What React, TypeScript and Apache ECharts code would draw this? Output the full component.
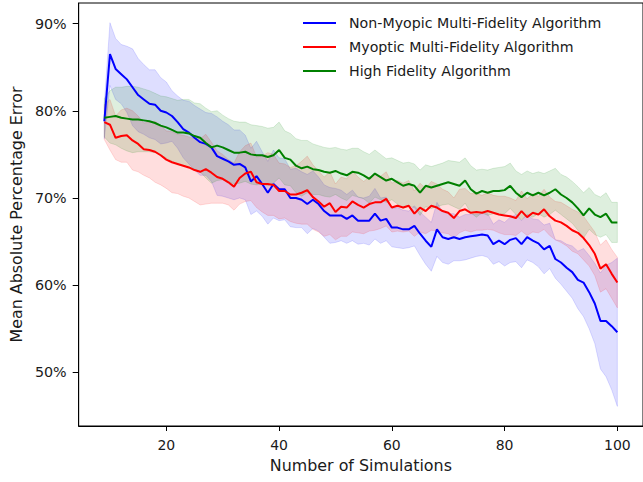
import React, { useEffect, useRef } from "react";
import * as echarts from "echarts";

// Number of simulations: 9 .. 100 (one point per simulation count)
const FIRST_SIM = 9;

const seriesNames = [
  "Non-Myopic Multi-Fidelity Algorithm",
  "Myoptic Multi-Fidelity Algorithm",
  "High Fidelity Algorithm",
];

// Mean absolute percentage error (%)
const nonMyopicMean = [
  78.8, 86.5, 84.8, 84.2, 83.6, 82.7, 81.8, 81.3, 80.8, 80.7,
  80.0, 79.8, 79.4, 78.7, 77.9, 77.5, 76.9, 76.4, 76.2, 75.8,
  74.8, 74.5, 74.2, 73.8, 73.9, 73.5, 71.9, 72.5, 71.6, 70.6,
  71.6, 71.0, 71.0, 70.0, 70.0, 69.8, 69.3, 69.8, 69.3, 68.5,
  68.0, 68.0, 68.0, 67.6, 68.0, 67.4, 67.4, 67.4, 68.2, 67.4,
  67.6, 66.6, 66.6, 66.4, 66.4, 66.8, 65.9, 65.1, 64.4, 66.4,
  65.5, 65.3, 65.5, 65.3, 65.5, 65.6, 65.7, 65.8, 65.7, 64.7,
  65.1, 64.7, 65.2, 65.4, 64.7, 65.5, 65.1, 64.8, 64.1, 64.5,
  63.0, 62.6, 62.0, 61.5, 60.6, 60.3, 59.2, 57.9, 55.9, 55.9,
  55.3, 54.6,
];
const nonMyopicSpread = [
  2.0, 3.6, 3.5, 3.4, 3.8, 4.4, 4.2, 4.0, 3.9, 4.0,
  3.8, 3.5, 2.9, 3.0, 3.3, 3.6, 3.7, 3.8, 3.6, 3.9,
  4.5, 4.3, 4.2, 4.0, 3.9, 3.7, 3.8, 4.0, 3.7, 3.6,
  3.9, 3.6, 3.5, 3.3, 3.4, 3.2, 3.4, 3.3, 3.1, 3.0,
  3.2, 3.1, 2.9, 2.8, 2.9, 2.7, 2.6, 2.8, 2.9, 2.6,
  2.5, 2.2, 2.3, 2.2, 2.1, 2.3, 2.5, 2.7, 2.8, 3.1,
  2.9, 2.9, 2.7, 2.5, 2.6, 2.5, 2.4, 2.4, 2.5, 2.3,
  2.4, 2.5, 2.6, 2.7, 2.7, 2.6, 2.5, 2.7, 2.8, 2.6,
  2.2, 2.5, 2.7, 3.0, 3.3, 3.9, 4.2, 4.6, 5.5, 6.4,
  7.3, 8.5,
];

const myopicMean = [
  78.7, 78.4, 76.9, 77.1, 77.2, 76.6, 76.2, 75.6, 75.5, 75.3,
  74.9, 74.4, 74.1, 73.9, 73.7, 73.5, 73.2, 73.0, 73.3, 72.9,
  72.4, 72.2, 71.8, 71.3, 72.3, 72.8, 73.0, 71.8, 71.6, 71.6,
  71.5, 70.8, 70.8, 70.4, 70.4, 70.6, 70.9, 70.1, 69.6, 69.0,
  69.4, 68.4, 69.0, 68.9, 69.6, 69.2, 68.9, 69.3, 69.5, 69.5,
  69.9, 68.9, 69.1, 68.9, 69.1, 68.2, 68.9, 68.5, 69.1, 68.9,
  68.5, 68.3, 67.7, 68.5, 68.7, 68.3, 68.4, 68.3, 68.5, 68.3,
  68.1, 68.0, 67.9, 67.7, 68.5, 67.8, 68.3, 68.1, 68.7, 67.9,
  67.4, 67.2, 66.8, 66.3, 66.0, 65.4, 64.6, 63.6, 61.9, 62.4,
  61.3, 60.3,
];
const myopicSpread = [
  2.0, 2.9, 2.5, 3.0, 3.1, 3.4, 3.2, 3.0, 3.2, 3.5,
  3.4, 3.3, 3.5, 3.4, 3.5, 3.5, 3.6, 3.8, 4.0, 3.5,
  3.0, 2.8, 2.6, 2.7, 3.0, 3.2, 3.3, 2.9, 3.2, 3.6,
  3.5, 3.2, 3.1, 3.1, 3.3, 3.6, 3.9, 3.7, 3.5, 3.4,
  3.6, 3.2, 3.4, 3.3, 3.5, 3.2, 3.0, 3.1, 3.2, 3.0,
  3.1, 2.8, 2.9, 2.8, 2.9, 2.6, 2.8, 2.6, 2.8, 2.7,
  2.5, 2.4, 2.3, 2.5, 2.4, 2.2, 2.1, 2.0, 2.1, 2.0,
  2.1, 2.2, 2.1, 2.0, 2.3, 2.1, 2.2, 2.1, 2.3, 2.2,
  2.2, 2.3, 2.3, 2.4, 2.4, 2.5, 2.4, 2.5, 2.7, 2.8,
  2.8, 2.9,
];

const highFidelityMean = [
  79.2, 79.3, 79.4, 79.2, 79.1, 79.0, 79.0, 78.9, 78.8, 78.6,
  78.3, 78.1, 77.8, 77.5, 77.5, 77.4, 77.1, 76.9, 76.3, 75.8,
  76.0, 75.8, 75.5, 75.2, 75.2, 75.3, 75.0, 74.9, 74.9, 74.7,
  74.9, 75.5, 74.6, 74.4, 73.7, 73.4, 73.6, 73.3, 73.2, 73.0,
  72.9, 73.1, 72.8, 72.6, 73.0, 72.9, 72.6, 72.2, 72.8, 72.4,
  72.0, 72.2, 71.8, 71.4, 71.6, 71.4, 70.6, 71.4, 71.2, 71.4,
  71.6, 71.8, 71.6, 71.4, 72.0, 71.0, 70.5, 70.8, 70.6, 70.8,
  70.8, 70.9, 71.4, 70.6, 70.1, 70.6, 70.3, 70.6, 70.3, 70.6,
  71.0, 70.4, 70.0, 69.5, 68.8, 68.0, 68.8, 68.1, 67.8, 68.2,
  67.2, 67.2,
];
const highFidelitySpread = [
  2.2, 3.0, 3.3, 3.5, 3.7, 3.8, 3.7, 3.6, 3.5, 3.4,
  3.4, 3.5, 3.6, 3.7, 3.8, 3.9, 3.8, 3.9, 4.0, 4.1,
  4.0, 3.7, 3.6, 3.6, 3.5, 3.4, 3.4, 3.4, 3.3, 3.3,
  3.2, 3.2, 3.1, 3.0, 3.1, 3.2, 3.0, 2.9, 2.8, 2.8,
  2.8, 2.7, 2.8, 2.9, 2.7, 2.8, 2.7, 2.8, 2.7, 2.6,
  2.5, 2.4, 2.5, 2.6, 2.5, 2.5, 2.6, 2.4, 2.4, 2.4,
  2.4, 2.5, 2.6, 2.7, 2.6, 2.7, 2.7, 2.5, 2.6, 2.6,
  2.7, 2.7, 2.6, 2.5, 2.6, 2.5, 2.5, 2.4, 2.5, 2.5,
  2.4, 2.3, 2.4, 2.4, 2.5, 2.6, 2.4, 2.3, 2.3, 2.4,
  2.3, 2.3,
];

const xTicks = [20, 40, 60, 80, 100];
const yTicks = [50, 60, 70, 80, 90];

const COLORS = ["#0000ff", "#ff0000", "#008000"];
const BAND_COLORS = [
  "rgba(0,0,255,0.13)",
  "rgba(255,0,0,0.13)",
  "rgba(0,128,0,0.13)",
];

const FONT = "DejaVu Sans";

export default function App() {
  const ref = useRef<HTMLDivElement>(null);

  useEffect(() => {
    if (!ref.current) return;
    const chart = echarts.init(ref.current, null, { renderer: "svg" });

    const means = [nonMyopicMean, myopicMean, highFidelityMean];
    const spreads = [nonMyopicSpread, myopicSpread, highFidelitySpread];
    const xs = nonMyopicMean.map((_, i) => FIRST_SIM + i);

    const bandSeries = means.map((m, k) => {
      const lower = m.map((v, i) => +(v - spreads[k][i]).toFixed(2));
      const upper = m.map((v, i) => +(v + spreads[k][i]).toFixed(2));
      return {
        type: "custom",
        name: seriesNames[k] + " band",
        silent: true,
        z: 1,
        data: xs.map((x, i) => [x, lower[i], upper[i]]),
        encode: { x: 0, y: [1, 2] },
        renderItem: (params: any, api: any) => {
          if (params.dataIndex !== 0) return null;
          const top = xs.map((x, i) => api.coord([x, upper[i]]));
          const bot = xs.map((x, i) => api.coord([x, lower[i]])).reverse();
          return {
            type: "polygon",
            shape: { points: top.concat(bot) },
            style: { fill: BAND_COLORS[k], stroke: BAND_COLORS[k], lineWidth: 1 },
          };
        },
      };
    });

    const lineSeries = means.map((m, k) => ({
      type: "line",
      name: seriesNames[k],
      z: 3,
      showSymbol: false,
      symbol: "none",
      data: xs.map((x, i) => [x, m[i]]),
      lineStyle: { color: COLORS[k], width: 2 },
      itemStyle: { color: COLORS[k] },
    }));

    chart.setOption({
      animation: false,
      backgroundColor: "#ffffff",
      textStyle: { fontFamily: FONT },
      grid: {
        left: 78,
        right: -4,
        top: 3,
        bottom: 56,
        show: true,
        borderColor: "#000",
        borderWidth: 1,
        containLabel: false,
      },
      legend: {
        data: seriesNames,
        orient: "vertical",
        left: 303,
        top: 15,
        padding: 0,
        icon: "rect",
        itemWidth: 33,
        itemHeight: 2,
        itemGap: 8,
        textStyle: {
          fontFamily: FONT,
          fontSize: 14.2,
          color: "#1a1a1a",
          lineHeight: 16,
          padding: [0, 0, 0, 8],
        },
      },
      xAxis: {
        type: "value",
        min: 4.45,
        max: 104.55,
        name: "Number of Simulations",
        nameLocation: "middle",
        nameGap: 31,
        nameTextStyle: { fontFamily: FONT, fontSize: 15.9, color: "#1a1a1a" },
        splitLine: { show: false },
        axisLine: { show: true, lineStyle: { color: "#000", width: 1 } },
        axisTick: {
          show: true,
          length: 5,
          lineStyle: { color: "#000" },
          customValues: xTicks,
        },
        axisLabel: {
          fontFamily: FONT,
          fontSize: 14,
          color: "#1a1a1a",
          margin: 12,
          customValues: xTicks,
        },
      },
      yAxis: {
        type: "value",
        min: 43.85,
        max: 92.36,
        name: "Mean Absolute Percentage Error",
        nameLocation: "middle",
        nameGap: 54,
        nameTextStyle: { fontFamily: FONT, fontSize: 15.9, color: "#1a1a1a" },
        splitLine: { show: false },
        axisLine: { show: true, lineStyle: { color: "#000", width: 1 } },
        axisTick: {
          show: true,
          length: 6,
          lineStyle: { color: "#000" },
          customValues: yTicks,
        },
        axisLabel: {
          fontFamily: FONT,
          fontSize: 14.3,
          color: "#1a1a1a",
          margin: 12,
          customValues: yTicks,
          formatter: (v: number) => `${Math.round(v)}%`,
        },
      },
      series: [...bandSeries, ...lineSeries],
    });

    return () => chart.dispose();
  }, []);

  return (
    <div
      ref={ref}
      style={{ position: "fixed", left: 0, top: 0, width: 643, height: 482, background: "#fff" }}
    />
  );
}
